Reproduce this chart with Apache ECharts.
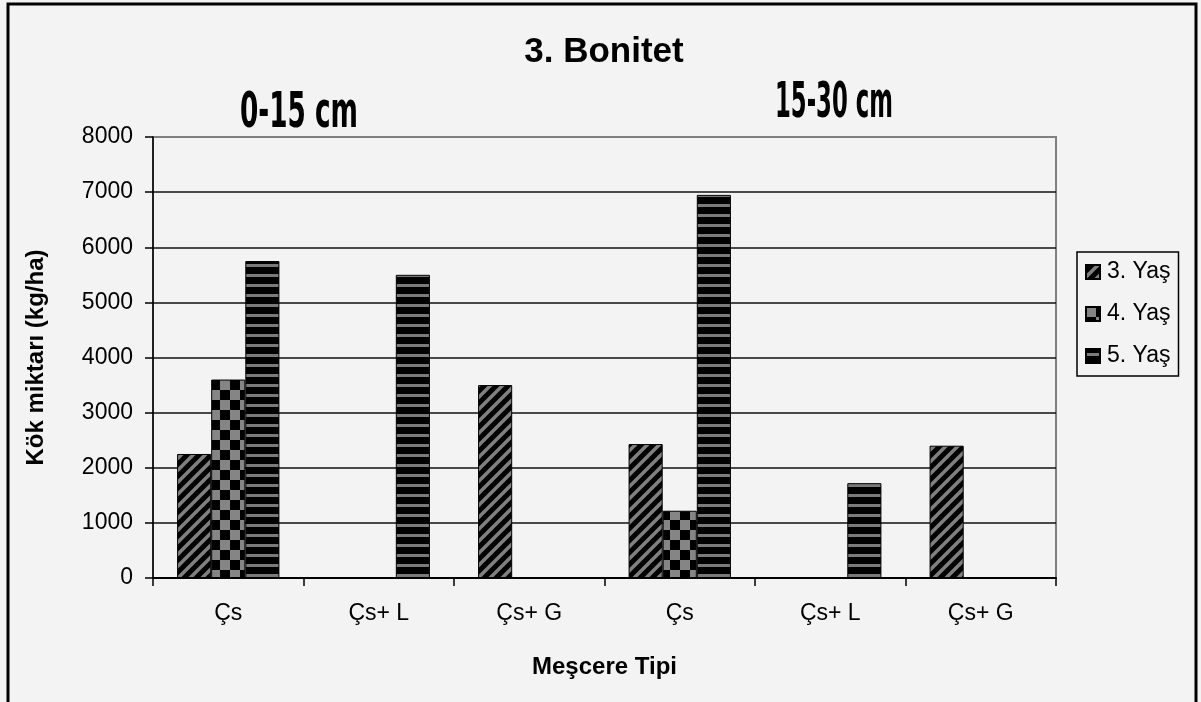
<!DOCTYPE html>
<html>
<head>
<meta charset="utf-8">
<script src="https://cdn.jsdelivr.net/npm/echarts@6/dist/echarts.min.js"></script>
<style>
  html, body { margin: 0; padding: 0; background: #f3f3f3; }
  #chart { width: 1201px; height: 702px; }
</style>
</head>
<body>
<div id="chart"></div>
<script>
  // data
  var categories = ['Çs', 'Çs+ L', 'Çs+ G', 'Çs', 'Çs+ L', 'Çs+ G']
  var seriesNames = ['3. Yaş', '4. Yaş', '5. Yaş']
  var yas3 = [2250, null, 3500, 2430, null, 2400]
  var yas4 = [3600, null, null, 1220, null, null]
  var yas5 = [5750, 5500, null, 6950, 1720, null]
  var yTicks = [0, 1000, 2000, 3000, 4000, 5000, 6000, 7000, 8000]

  var FONT = '"Liberation Sans", Arial, sans-serif'

  // fill patterns like the old excel chart
  function makeTile (w, h, draw) {
    var c = document.createElement('canvas')
    c.width = w
    c.height = h
    var ctx = c.getContext('2d')
    ctx.fillStyle = '#000'
    ctx.fillRect(0, 0, w, h)
    draw(ctx)
    return { image: c, repeat: 'repeat' }
  }
  var diagFill = makeTile(12, 12, function (ctx) {
    ctx.strokeStyle = '#808080'
    ctx.lineWidth = 3.5
    for (var k = -1; k <= 1; k++) {
      ctx.beginPath()
      ctx.moveTo(k * 12 - 2, 14)
      ctx.lineTo(k * 12 + 14, -2)
      ctx.stroke()
    }
  })
  var checkFill = makeTile(20, 20, function (ctx) {
    ctx.fillStyle = '#858585'
    ctx.fillRect(0, 0, 10, 10)
    ctx.fillRect(10, 10, 10, 10)
  })
  var hlineFill = makeTile(4, 10, function (ctx) {
    ctx.fillStyle = '#7a7a7a'
    ctx.fillRect(0, 4, 4, 3)
  })

  var chart = echarts.init(document.getElementById('chart'))

  function barSeries (name, data, fill) {
    return {
      name: name,
      type: 'bar',
      data: data,
      barGap: '0%',
      barCategoryGap: '32%',
      itemStyle: {
        color: fill,
        borderColor: '#000',
        borderWidth: 1,
      },
    }
  }

  var option = {
    backgroundColor: '#f3f3f3',
    animation: false,
    grid: {
      left: 153,
      right: 145,
      top: 137,
      bottom: 124,
      show: true,
      backgroundColor: 'transparent',
      borderColor: '#808080',
      borderWidth: 2,
    },
    legend: {
      orient: 'vertical',
      left: 1077,
      top: 252,
      padding: [8, 8, 8, 8],
      itemGap: 18,
      itemWidth: 14,
      itemHeight: 14,
      icon: 'rect',
      borderColor: '#000',
      borderWidth: 1.5,
      data: seriesNames,
      textStyle: {
        color: '#000',
        fontFamily: FONT,
        fontSize: 23,
        lineHeight: 24,
        padding: [0, 0, 0, 2],
      },
    },
    xAxis: {
      type: 'category',
      data: categories,
      name: 'Meşcere Tipi',
      nameLocation: 'middle',
      nameGap: 77,
      nameTextStyle: { color: '#000', fontFamily: FONT, fontSize: 24, fontWeight: 'bold' },
      axisLine: { lineStyle: { color: '#000', width: 2 } },
      axisTick: { show: true, length: 8, lineStyle: { color: '#000', width: 1.5 } },
      axisLabel: { color: '#000', fontFamily: FONT, fontSize: 23, margin: 24 },
    },
    yAxis: {
      type: 'value',
      min: yTicks[0],
      max: yTicks[yTicks.length - 1],
      interval: 1000,
      name: 'Kök miktarı (kg/ha)',
      nameLocation: 'middle',
      nameGap: 105,
      nameTextStyle: { color: '#000', fontFamily: FONT, fontSize: 24, fontWeight: 'bold' },
      axisLine: { show: true, lineStyle: { color: '#000', width: 1.5 } },
      axisTick: { show: true, length: 8, lineStyle: { color: '#000', width: 1.5 } },
      axisLabel: {
        color: '#000',
        fontFamily: FONT,
        fontSize: 23,
        margin: 20,
        formatter: function (v) { return String(v) },
      },
      splitLine: {
        show: true,
        showMaxLine: false,
        lineStyle: { color: '#111', width: 1.5 },
      },
    },
    graphic: [
      {
        type: 'rect',
        silent: true,
        shape: { x: 8, y: 4, width: 1188, height: 720 },
        style: { fill: 'none', stroke: '#000', lineWidth: 3 },
      },
      {
        type: 'text',
        x: 604,
        y: 52,
        style: {
          text: '3. Bonitet',
          font: 'bold 35px ' + FONT,
          fill: '#000',
          textAlign: 'center',
          textVerticalAlign: 'middle',
        },
      },
      {
        type: 'text',
        x: 240,
        y: 114,
        scaleX: 0.585,
        style: {
          text: '0-15 cm',
          font: 'bold 50px "DejaVu Sans Condensed", "DejaVu Sans", sans-serif',
          fill: '#000',
          textAlign: 'left',
          textVerticalAlign: 'middle',
        },
      },
      {
        type: 'text',
        x: 775,
        y: 104,
        scaleX: 0.506,
        style: {
          text: '15-30 cm',
          font: 'bold 50px "DejaVu Sans Condensed", "DejaVu Sans", sans-serif',
          fill: '#000',
          textAlign: 'left',
          textVerticalAlign: 'middle',
        },
      },
    ],
    series: [
      barSeries(seriesNames[0], yas3, diagFill),
      barSeries(seriesNames[1], yas4, checkFill),
      barSeries(seriesNames[2], yas5, hlineFill),
    ],
  }
  chart.setOption(option)
</script>
</body>
</html>
